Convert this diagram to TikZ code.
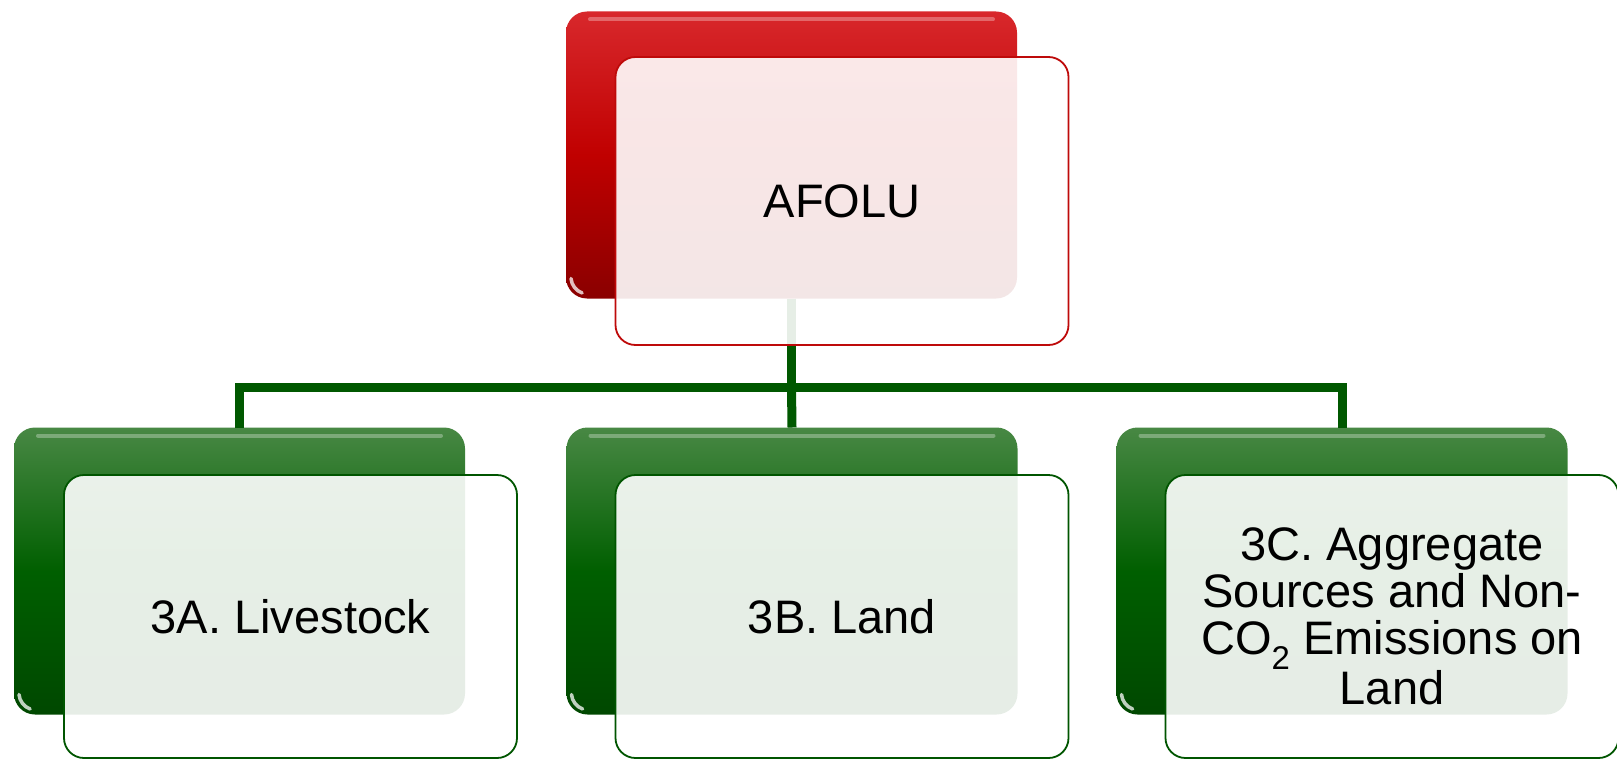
\documentclass[tikz,border=0pt]{standalone}
\usepackage{fontspec}
\setmainfont{Liberation Sans}
\definecolor{redTop}{RGB}{216,40,44}
\definecolor{redMid}{RGB}{192,0,0}
\definecolor{redBot}{RGB}{138,0,0}
\definecolor{grnTop}{RGB}{72,136,68}
\definecolor{grnMid}{RGB}{0,95,0}
\definecolor{grnBot}{RGB}{0,72,0}
\definecolor{redEdge}{RGB}{190,10,10}
\definecolor{grnEdge}{RGB}{0,85,0}
\definecolor{connCol}{RGB}{0,88,0}
\tikzset{
  backbox/.style={rounded corners=21pt, minimum width=451pt, minimum height=287pt, inner sep=0pt, outer sep=0pt},
  backred/.style={backbox, top color=redTop, bottom color=redBot, middle color=redMid},
  backgrn/.style={backbox, top color=grnTop, bottom color=grnBot, middle color=grnMid},
  frontbox/.style={rounded corners=20pt, minimum width=453pt, inner sep=0pt, outer sep=0pt,
    fill=white, fill opacity=0.9, text opacity=1, line width=1.8pt, align=center,
    font=\fontsize{47}{47}\selectfont},
  frontred/.style={frontbox, draw=redEdge, minimum height=288pt},
  frontgrn/.style={frontbox, draw=grnEdge, minimum height=283pt},
  conn/.style={draw=connCol, line width=9pt},
  gloss/.style={draw=white, line width=4pt, line cap=round, draw opacity=0.3},
  cornergloss/.style={draw=white, line width=3.5pt, line cap=round, draw opacity=0.75}
}
\begin{document}
\begin{tikzpicture}[x=1pt,y=-1pt]
\useasboundingbox (0,0) rectangle (1617,760);
% back boxes
\node[backred] (topback) at (791.5,155) {};
\node[backgrn] (b1back) at (239.5,571) {};
\node[backgrn] (b2back) at (792,571) {};
\node[backgrn] (b3back) at (1342,571) {};
% glossy highlights
\foreach \n in {topback,b1back,b2back,b3back}{
  \draw[gloss] ([xshift=24pt,yshift=-8pt]\n.north west) -- ([xshift=-24pt,yshift=-8pt]\n.north east);
  \draw[cornergloss] ([xshift=5pt,yshift=20pt]\n.south west) arc[start angle=185, end angle=250, radius=17pt];
}
% connectors
\coordinate (bus) at (792,387.5);
\draw[conn] (topback.south) -- (topback.south |- bus) -| (b1back.north);
\draw[conn] (topback.south) -- (topback.south |- bus) -| (b3back.north);
\draw[conn] (topback.south |- bus) -- (b2back.north);
% front boxes
\node[frontred] (afolu) at (842,201) {AFOLU};
\node[frontgrn] (b1) at (290.5,616.5) {3A. Livestock};
\node[frontgrn] (b2) at (842,616.5) {3B. Land};
\node[frontgrn] (b3) at (1392,616.5) {3C. Aggregate\\Sources and Non-\\CO\textsubscript{2} Emissions on\\Land};
\end{tikzpicture}
\end{document}
